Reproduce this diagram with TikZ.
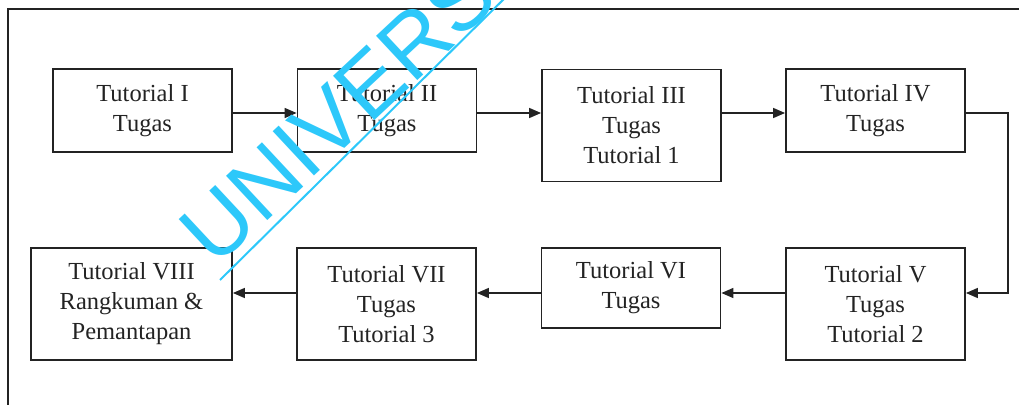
\documentclass[tikz,border=0pt]{standalone}
\usepackage{fontspec}
\setmainfont{Liberation Serif}
\newfontfamily\wmfont{Liberation Sans}
\usetikzlibrary{arrows.meta,calc}
\definecolor{ink}{RGB}{35,35,35}
\definecolor{wm}{RGB}{45,200,250}
\begin{document}
\begin{tikzpicture}[x=1pt,y=-1pt,
  box/.style={draw=ink,line width=1.8pt,inner sep=0pt,minimum width=179pt,
    align=center,text=ink,font=\fontsize{24.5}{30}\selectfont},
  two/.style={minimum height=83pt},
  three/.style={minimum height=112pt},
  link/.style={draw=ink,line width=1.5pt,-{Triangle[length=12pt,width=10pt]}}]
\useasboundingbox (0,0) rectangle (1019,404);
\begin{scope}
\clip (0,0) rectangle (1019,404);
% frame
\draw[ink,line width=1.5pt] (1025,9) -- (8,9) -- (8,410);
% top row
\node[box,two]   (b1) at (142.5,110.5) {Tutorial I\\Tugas};
\node[box,two]   (b2) at (387,110.5) {Tutorial II\\Tugas};
\node[box,three] (b3) at (631.5,125.5) {Tutorial III\\Tugas\\Tutorial 1};
\node[box,two]   (b4) at (875.5,110.5) {Tutorial IV\\Tugas};
% bottom row
\node[box,three,minimum width=201pt] (b8) at (131.5,304) {Tutorial VIII\\Rangkuman \&\\Pemantapan};
\node[box,three] (b7) at (386.5,304) {Tutorial VII\\Tugas\\Tutorial 3};
\node[box,minimum height=80pt] (b6) at (631,288) {Tutorial VI\\Tugas};
\node[box,three] (b5) at (875.5,304) {Tutorial V\\Tugas\\Tutorial 2};
% row levels
\coordinate (top) at (0,113);
\coordinate (bot) at (0,293);
\coordinate (turn) at (1008,0);
% connectors
\draw[link] (b1.east |- top) -- (b2.west |- top);
\draw[link] (b2.east |- top) -- (b3.west |- top);
\draw[link] (b3.east |- top) -- (b4.west |- top);
\draw[link] (b4.east |- top) -- (turn |- top) -- (turn |- bot) -- (b5.east |- bot);
\draw[link] (b5.west |- bot) -- (b6.east |- bot);
\draw[link] (b6.west |- bot) -- (b7.east |- bot);
\draw[link] (b7.west |- bot) -- (b8.east |- bot);
% watermark
\node[wm,rotate=43,inner sep=0pt,font=\wmfont\fontsize{88}{88}\selectfont] (wmark) at (338,113) {UNIVERS};
\draw[wm,line width=2pt] (220,280) -- (515,-12);
\end{scope}
\end{tikzpicture}
\end{document}
